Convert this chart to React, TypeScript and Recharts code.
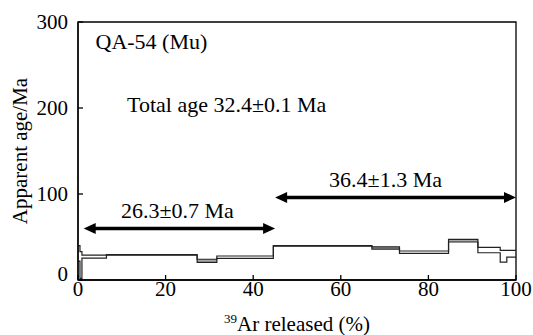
import React from 'react';
import {
  ComposedChart,
  Line,
  Area,
  XAxis,
  YAxis,
  ReferenceArea,
  ReferenceLine,
  ReferenceDot,
} from 'recharts';

// cumulative 39Ar released (%) at the start of each heating step, plus the end
const stepEdges = [0, 0.45, 0.9, 6.5, 27.2, 31.7, 44.6, 67.1, 73.4, 84.6, 91.3, 96.4, 97.9, 100];
// apparent age (Ma), upper and lower bounds of each step
const upperAge = [40, 33, 29, 29.5, 24.1, 27.9, 40, 38.6, 33.7, 47.3, 38, 34.5, 34.5];
const lowerAge = [22, 2, 25.5, 29, 20.6, 25.2, 39.5, 36, 31, 44.2, 31.7, 20.9, 26.7];
// steps drawn with a grey band between the bounds
const shadedStep = [false, false, false, false, true, false, false, true, false, true, false, false, false];

const xTicks = [0, 20, 40, 60, 80, 100];
const yTicks = [0, 100, 200, 300];

// plateau arrows: [from %, to %, age drawn at, label, label nudge]
const plateaus: [number, number, number, string, number][] = [
  [1.3, 45, 60, '26.3\u00B10.7 Ma', -2],
  [45, 100, 96, '36.4\u00B11.3 Ma', -10],
];

const sampleName = 'QA-54 (Mu)';
const totalAge = 'Total age 32.4\u00B10.1 Ma';

const data = stepEdges.map((x, i) => {
  const k = Math.min(i, upperAge.length - 1);
  return {
    x,
    hi: upperAge[k],
    lo: lowerAge[k],
    band: shadedStep[k] ? [lowerAge[k], upperAge[k]] : [lowerAge[k], lowerAge[k]],
  };
});

const FONT = 'Liberation Serif, Times New Roman, serif';

const ArrowShape = (props: any) => {
  const { x1, y1, x2, label, shift } = props;
  const head = 12;
  const half = 5.5;
  return (
    <g>
      <line x1={x1 + head - 2} y1={y1} x2={x2 - head + 2} y2={y1} stroke="#000" strokeWidth={3.5} />
      <polygon points={`${x1},${y1} ${x1 + head},${y1 - half} ${x1 + head},${y1 + half}`} fill="#000" />
      <polygon points={`${x2},${y1} ${x2 - head},${y1 - half} ${x2 - head},${y1 + half}`} fill="#000" />
      <text
        x={(x1 + x2) / 2 + shift}
        y={y1 - 10}
        textAnchor="middle"
        style={{ fontFamily: FONT, fontSize: 22 }}
        fill="#000"
      >
        {label}
      </text>
    </g>
  );
};

const YTick = (props: any) => {
  const { x, y, payload } = props;
  const lift = payload.value === 0 ? -6 : 0;
  return (
    <text x={x} y={y + lift} dy={7} textAnchor="end" style={{ fontFamily: FONT, fontSize: 21 }} fill="#000">
      {payload.value}
    </text>
  );
};

const XTick = (props: any) => {
  const { x, y, payload } = props;
  return (
    <text x={x} y={y} dy={15} textAnchor="middle" style={{ fontFamily: FONT, fontSize: 21 }} fill="#000">
      {payload.value}
    </text>
  );
};

const XTitle = (props: any) => {
  const { viewBox } = props;
  const cx = viewBox.x + viewBox.width / 2;
  return (
    <text x={cx} y={viewBox.y + 51} textAnchor="middle" style={{ fontFamily: FONT, fontSize: 21 }} fill="#000">
      <tspan style={{ fontSize: 13 }} dy={-8}>39</tspan>
      <tspan dy={8}>Ar released (%)</tspan>
    </text>
  );
};

const YTitle = (props: any) => {
  const { viewBox } = props;
  const cy = viewBox.y + viewBox.height / 2;
  const x = 27;
  return (
    <text
      x={x}
      y={cy}
      textAnchor="middle"
      transform={`rotate(-90, ${x}, ${cy})`}
      style={{ fontFamily: FONT, fontSize: 21 }}
      fill="#000"
    >
      Apparent age/Ma
    </text>
  );
};

const App: React.FC = () => {
  return (
    <div style={{ position: 'absolute', left: 0, top: 0, background: '#fff', fontFamily: FONT }}>
      <ComposedChart
        width={533}
        height={335}
        data={data}
        margin={{ top: 22, right: 17, left: 0, bottom: 0 }}
      >
        <XAxis
          dataKey="x"
          type="number"
          domain={[0, 100]}
          ticks={xTicks}
          allowDataOverflow
          tickSize={-5}
          tickMargin={6}
          height={55}
          axisLine={{ stroke: '#000', strokeWidth: 1.3 }}
          tickLine={{ stroke: '#000', strokeWidth: 1.3 }}
          tick={<XTick />}
          label={<XTitle />}
        />
        <YAxis
          type="number"
          domain={[0, 300]}
          ticks={yTicks}
          width={78}
          tickSize={-5}
          tickMargin={15}
          axisLine={{ stroke: '#000', strokeWidth: 1.3 }}
          tickLine={{ stroke: '#000', strokeWidth: 1.3 }}
          tick={<YTick />}
          label={<YTitle />}
        />
        <ReferenceArea x1={0} x2={100} y1={0} y2={300} fill="none" stroke="#000" strokeWidth={1.3} />
        <Area
          dataKey="band"
          type="stepAfter"
          fill="#a8a8a8"
          fillOpacity={1}
          stroke="none"
          isAnimationActive={false}
        />
        <Line dataKey="hi" type="stepAfter" stroke="#222" strokeWidth={1.2} dot={false} isAnimationActive={false} />
        <Line dataKey="lo" type="stepAfter" stroke="#222" strokeWidth={1.2} dot={false} isAnimationActive={false} />
        {plateaus.map(([from, to, age, label, shift]) => (
          <ReferenceLine
            key={label}
            segment={[{ x: from, y: age }, { x: to, y: age }]}
            shape={(p: any) => <ArrowShape {...p} label={label} shift={shift} />}
          />
        ))}
        <ReferenceDot
          x={4}
          y={277.5}
          r={0}
          fill="none"
          stroke="none"
          label={{ value: sampleName, position: 'right', offset: 0, fill: '#000', style: { fontSize: 22, fontFamily: FONT } }}
        />
        <ReferenceDot
          x={11.2}
          y={204.8}
          r={0}
          fill="none"
          stroke="none"
          label={{ value: totalAge, position: 'right', offset: 0, fill: '#000', style: { fontSize: 22, fontFamily: FONT } }}
        />
      </ComposedChart>
    </div>
  );
};

export default App;
